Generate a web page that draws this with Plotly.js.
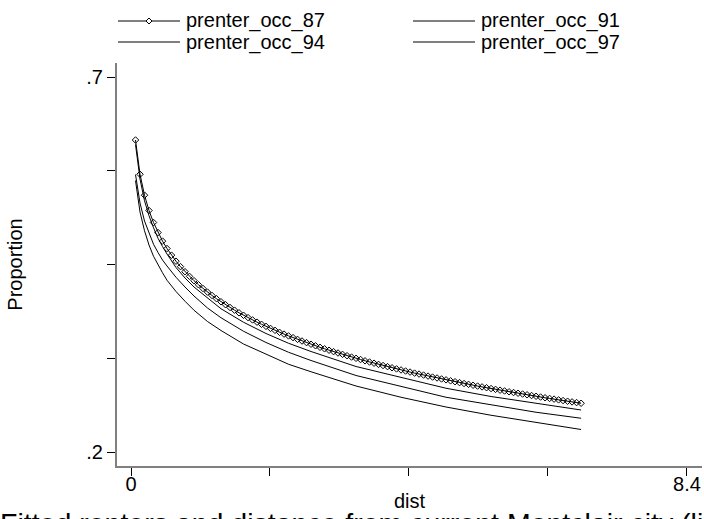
<!DOCTYPE html>
<html><head><meta charset="utf-8">
<script src="https://cdn.plot.ly/plotly-3.0.1.min.js"></script>
<style>html,body{margin:0;padding:0;background:#fff;} #chart{width:704px;height:519px;}</style>
</head><body><div id="chart"></div>
<script>
// dist grid of the fitted series with markers
const dist = [0.068,0.136,0.204,0.272,0.34,0.408,0.476,0.544,0.612,0.68,0.748,0.816,0.884,0.952,1.02,1.088,1.156,1.224,1.292,1.36,1.428,1.496,1.564,1.632,1.7,1.768,1.836,1.904,1.972,2.04,2.108,2.176,2.244,2.312,2.38,2.448,2.516,2.584,2.652,2.72,2.788,2.856,2.924,2.992,3.06,3.128,3.196,3.264,3.332,3.4,3.468,3.536,3.604,3.672,3.74,3.808,3.876,3.944,4.012,4.08,4.148,4.216,4.284,4.352,4.42,4.488,4.556,4.624,4.692,4.76,4.828,4.896,4.964,5.032,5.1,5.168,5.236,5.304,5.372,5.44,5.508,5.576,5.644,5.712,5.78,5.848,5.916,5.984,6.052,6.12,6.188,6.256,6.324,6.392,6.46,6.528,6.596,6.664,6.732,6.8];
const prenter_occ_87 = [0.6160,0.5703,0.5424,0.5220,0.5060,0.4926,0.4812,0.4713,0.4624,0.4544,0.4471,0.4404,0.4342,0.4284,0.4230,0.4180,0.4132,0.4087,0.4044,0.4003,0.3964,0.3927,0.3891,0.3856,0.3823,0.3792,0.3761,0.3731,0.3703,0.3675,0.3648,0.3622,0.3596,0.3572,0.3548,0.3525,0.3502,0.3480,0.3458,0.3437,0.3416,0.3396,0.3376,0.3357,0.3338,0.3320,0.3302,0.3284,0.3266,0.3249,0.3233,0.3216,0.3200,0.3184,0.3168,0.3153,0.3138,0.3123,0.3108,0.3094,0.3080,0.3066,0.3052,0.3039,0.3026,0.3012,0.2999,0.2987,0.2974,0.2962,0.2949,0.2937,0.2925,0.2913,0.2902,0.2890,0.2879,0.2868,0.2857,0.2846,0.2835,0.2824,0.2814,0.2803,0.2793,0.2783,0.2773,0.2763,0.2753,0.2743,0.2733,0.2723,0.2714,0.2705,0.2695,0.2686,0.2677,0.2668,0.2659,0.2650];
// dist values read for the plain fitted lines
const distFit = [0.068,0.136,0.204,0.272,0.34,0.408,0.476,0.544,0.68,0.816,0.952,1.156,1.36,1.7,2.04,2.38,2.72,3.4,4.08,4.76,5.44,6.12,6.8];
const prenter_occ_91 = [0.610,0.564,0.535,0.515,0.499,0.485,0.474,0.464,0.446,0.432,0.420,0.405,0.391,0.373,0.358,0.345,0.334,0.314,0.299,0.285,0.274,0.265,0.256];
const prenter_occ_94 = [0.570,0.532,0.508,0.491,0.477,0.466,0.456,0.448,0.433,0.420,0.408,0.392,0.379,0.361,0.346,0.333,0.322,0.302,0.287,0.273,0.263,0.253,0.245];
const prenter_occ_97 = [0.562,0.520,0.495,0.476,0.461,0.449,0.439,0.429,0.414,0.401,0.389,0.374,0.362,0.344,0.330,0.317,0.307,0.288,0.273,0.260,0.249,0.239,0.230];
const seriesNames = ['prenter_occ_87','prenter_occ_91','prenter_occ_94','prenter_occ_97'];
const xTickVals = [0, 2.1, 4.2, 6.3, 8.4];
const xTickText = ['0', '', '', '', '8.4'];
const yTickVals = [0.2, 0.325, 0.45, 0.575, 0.7];
const yTickText = ['.2', '', '', '', '.7'];
const captionText = 'Fitted renters and distance from current Montclair city (limits)';

const FONT = 'Liberation Sans, Arial, sans-serif';
const W = 704, H = 519, ML = 117, MR = 2, MT = 63, MB = 53;
const PW = W - ML - MR, PH = H - MT - MB;
const px = x => (x - ML) / PW;      // pixel -> paper
const py = y => (H - MB - y) / PH;

const traces = [
  {x: dist, y: prenter_occ_87, name: seriesNames[0], mode: 'lines+markers',
   line: {color: '#000', width: 1},
   marker: {symbol: 'diamond-open', size: 5, color: '#000', line: {width: 1, color: '#000'}}},
  {x: distFit, y: prenter_occ_91, name: seriesNames[1], mode: 'lines', line: {color: '#000', width: 1}},
  {x: distFit, y: prenter_occ_94, name: seriesNames[2], mode: 'lines', line: {color: '#000', width: 1}},
  {x: distFit, y: prenter_occ_97, name: seriesNames[3], mode: 'lines', line: {color: '#000', width: 1}}
];

// manual legend (two columns, two rows)
const legPos = [[118, 21], [413, 21], [118, 42], [413, 42]];
const shapes = [];
const annotations = [];
seriesNames.forEach((nm, i) => {
  const [lx, ly] = legPos[i];
  shapes.push({type: 'line', xref: 'paper', yref: 'paper', x0: px(lx), x1: px(lx + 62), y0: py(ly), y1: py(ly),
               line: {color: '#000', width: 1}});
  if (i === 0) {
    const cx = lx + 31, cy = ly, d = 3;
    shapes.push({type: 'path', xref: 'paper', yref: 'paper',
      path: `M ${px(cx)},${py(cy - d)} L ${px(cx + d)},${py(cy)} L ${px(cx)},${py(cy + d)} L ${px(cx - d)},${py(cy)} Z`,
      fillcolor: '#fff', line: {color: '#000', width: 1}});
  }
  annotations.push({xref: 'paper', yref: 'paper', x: px(lx + 66), y: py(ly), xanchor: 'left', yanchor: 'middle',
    text: nm, showarrow: false, font: {family: FONT, size: 20, color: '#000'}});
});
annotations.push({xref: 'paper', yref: 'paper', x: px(-2), y: py(505), xanchor: 'left', yanchor: 'top',
  text: captionText, showarrow: false, font: {family: FONT, size: 28.5, color: '#000'}});

const layout = {
  width: W, height: H,
  margin: {l: ML, r: MR, t: MT, b: MB, pad: 0},
  paper_bgcolor: '#fff', plot_bgcolor: '#fff',
  showlegend: false,
  font: {family: FONT, size: 20, color: '#000'},
  xaxis: {range: [-0.2115, 8.627], tickmode: 'array', tickvals: xTickVals, ticktext: xTickText,
    ticks: 'outside', ticklen: 8, tickwidth: 1, tickcolor: '#000', ticklabelstandoff: -9,
    showline: true, linecolor: '#808080', linewidth: 2, showgrid: false, zeroline: false,
    tickfont: {family: FONT, size: 20}, title: {text: 'dist', standoff: 0, font: {family: FONT, size: 20}}},
  yaxis: {range: [0.18133, 0.71867], tickmode: 'array', tickvals: yTickVals, ticktext: yTickText,
    ticks: 'outside', ticklen: 8, tickwidth: 1, tickcolor: '#000',
    showline: true, linecolor: '#808080', linewidth: 2, showgrid: false, zeroline: false,
    tickfont: {family: FONT, size: 20}, title: {text: 'Proportion', standoff: 58, font: {family: FONT, size: 20}}},
  shapes: shapes,
  annotations: annotations
};

Plotly.newPlot('chart', traces, layout, {displayModeBar: false, staticPlot: true});
</script>
</body></html>
